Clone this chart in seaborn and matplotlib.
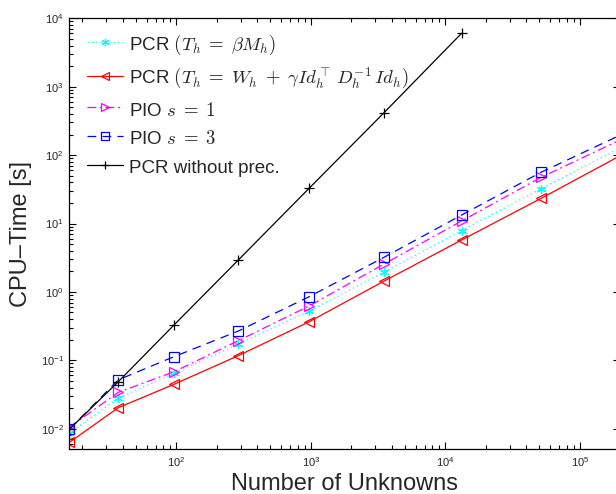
import matplotlib
matplotlib.use("Agg")
import matplotlib.pyplot as plt
import seaborn as sns
import pandas as pd
from matplotlib.ticker import LogLocator, NullFormatter, FixedLocator

# ---- data ----
unknowns = [16, 37, 96, 289, 970, 3500, 13200, 51400, 205000]
unknowns_noprec = [16, 37, 96, 289, 970, 3500, 13200]
pcr_beta = [0.0086, 0.028, 0.0645, 0.173, 0.526, 1.94, 7.85, 32.3, 130]
pcr_w = [0.0063, 0.0203, 0.0446, 0.117, 0.366, 1.44, 5.74, 23.3, 101]
pio1 = [0.0105, 0.034, 0.068, 0.194, 0.622, 2.56, 10.9, 47.3, 171]
pio3 = [0.0098, 0.0518, 0.113, 0.268, 0.851, 3.21, 13.3, 56.1, 201]
pcr_noprec = [0.0098, 0.0486, 0.328, 2.93, 32.7, 417, 6040]

xticks = [1e2, 1e3, 1e4, 1e5]
yticks = [1e-2, 1e-1, 1e0, 1e1, 1e2, 1e3, 1e4]

labels = [r"PCR $(T_h\;=\;\beta M_h)$",
          r"PCR $(T_h\;=\;W_h\;+\;\gamma Id_h^\top\, D_h^{-1}\, Id_h)$",
          r"PIO $s\;=\;1$",
          r"PIO $s\;=\;3$",
          "PCR without prec."]

sns.set_theme(style="ticks")
plt.rcParams["font.family"] = ["Liberation Sans", "DejaVu Sans"]
plt.rcParams["axes.linewidth"] = 0.9

fig = plt.figure(figsize=(6.16, 4.94), dpi=100)
W, H = 616, 494
left, right, top, bottom = 69.3, 620.4, 18.3, 449.3
ax = fig.add_axes([left / W, (H - bottom) / H, (right - left) / W, (bottom - top) / H])

series = [
    (unknowns, pcr_beta, labels[0], "#00FFFF", (6, 2, 0), (0, (1, 2.5))),
    (unknowns, pcr_w, labels[1], "#FF0000", "<", "-"),
    (unknowns, pio1, labels[2], "#FF00FF", ">", (0, (7, 3, 1.5, 3))),
    (unknowns, pio3, labels[3], "#0000FF", "s", (0, (7, 5))),
    (unknowns_noprec, pcr_noprec, labels[4], "#000000", "+", "-"),
]

for xs, ys, lab, col, mk, ls in series:
    df = pd.DataFrame({"x": xs, "y": ys})
    sns.lineplot(data=df, x="x", y="y", ax=ax, color=col, marker=mk,
                 linestyle=ls, linewidth=0.9, markersize=6.5,
                 markerfacecolor="none", markeredgecolor=col,
                 markeredgewidth=0.9, label=lab, sort=False)

ax.set_xscale("log")
ax.set_yscale("log")
ax.set_xlim(16, 2.0e5)
ax.set_ylim(5e-3, 1e4)

ax.xaxis.set_major_locator(FixedLocator(xticks))
ax.yaxis.set_major_locator(FixedLocator(yticks))
ax.xaxis.set_minor_locator(LogLocator(base=10, subs=range(2, 10), numticks=100))
ax.yaxis.set_minor_locator(LogLocator(base=10, subs=range(2, 10), numticks=100))
ax.xaxis.set_minor_formatter(NullFormatter())
ax.yaxis.set_minor_formatter(NullFormatter())

ax.tick_params(which="both", direction="in", top=True, right=True,
               color="black", width=0.8)
ax.tick_params(which="major", length=5, labelsize=8, pad=4)
ax.tick_params(which="minor", length=2.6)
for s in ax.spines.values():
    s.set_visible(True)
    s.set_color("black")

ax.set_xlabel("Number of Unknowns", fontsize=17, labelpad=3)
ax.set_ylabel("CPU\u2013Time [s]", fontsize=17, labelpad=6)

leg = ax.legend(loc="upper left", bbox_to_anchor=(-0.004, 1.012), frameon=False,
                fontsize=13.5, handlelength=1.95, handletextpad=0.28,
                handleheight=1.25, labelspacing=0.46, numpoints=1,
                borderaxespad=0.65, markerscale=0.8)
for t in leg.get_texts():
    t.set_math_fontfamily("cm")

ax.set_facecolor("white")
fig.patch.set_facecolor("white")
fig.savefig("out.png", dpi=100, facecolor="white")
